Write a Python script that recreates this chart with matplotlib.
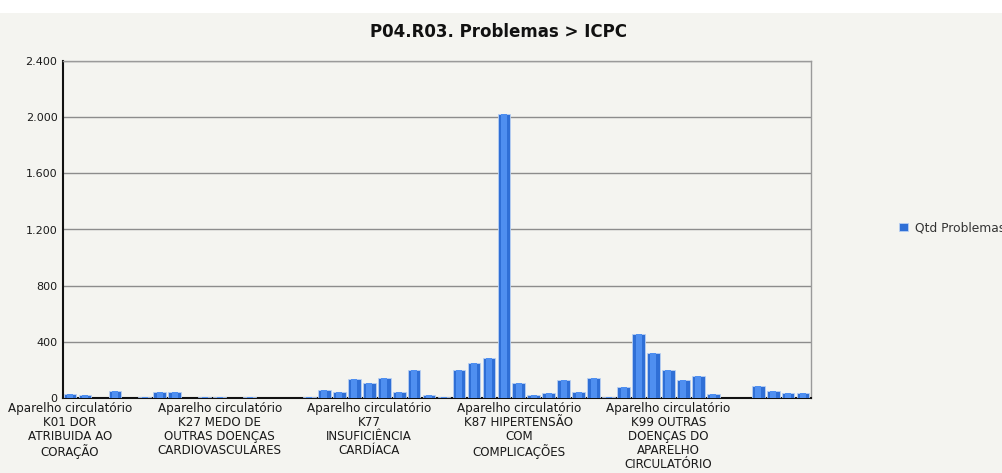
import matplotlib
matplotlib.use("Agg")
from matplotlib import pyplot as plt
from matplotlib.ticker import FuncFormatter
import numpy as np

# 50 ICPC problems, only every 10th label is visible in the chart
categories = [""] * 50
categories[0] = "Aparelho circulatório\nK01 DOR\nATRIBUIDA AO\nCORAÇÃO"
categories[10] = "Aparelho circulatório\nK27 MEDO DE\nOUTRAS DOENÇAS\nCARDIOVASCULARES"
categories[20] = "Aparelho circulatório\nK77\nINSUFICIÊNCIA\nCARDÍACA"
categories[30] = "Aparelho circulatório\nK87 HIPERTENSÃO\nCOM\nCOMPLICAÇÕES"
categories[40] = "Aparelho circulatório\nK99 OUTRAS\nDOENÇAS DO\nAPARELHO\nCIRCULATÓRIO"

qtd_problemas = [28, 20, 0, 52, 0, 10, 43, 43, 0, 10,
                 10, 0, 8, 0, 0, 0, 8, 60, 43, 133,
                 110, 143, 43, 202, 20, 8, 200, 252, 283, 2020,
                 110, 20, 33, 126, 43, 143, 10, 76, 457, 317,
                 200, 126, 160, 26, 0, 0, 83, 50, 36, 36]

y_ticks = [0, 400, 800, 1200, 1600, 2000, 2400]

bg = "#f4f4f0"
fig = plt.figure(figsize=(10.03, 4.73), dpi=100, facecolor=bg)
# white strip at the very top
fig.patches.append(plt.Rectangle((0, 1 - 13 / 473), 1, 13 / 473, transform=fig.transFigure,
                                 facecolor="white", edgecolor="none", zorder=0))

ax = fig.add_axes([63 / 1003, 75 / 473, 748 / 1003, 337 / 473], facecolor=bg)

vals = np.array(qtd_problemas)
x = np.arange(len(vals))
nz = vals > 0  # empty categories draw nothing
ax.bar(x[nz], vals[nz], width=0.85, color="#2f6fd6", edgecolor="#b9d0f2",
       linewidth=0.6, zorder=3, label="Qtd Problemas")
ax.bar(x[nz], vals[nz], width=0.4, color="#4f8ff0", linewidth=0, zorder=4)

ax.set_xlim(-0.47, 49.53)
ax.set_ylim(0, 2400)
ax.set_yticks(y_ticks)
ax.yaxis.set_major_formatter(FuncFormatter(lambda v, p: f"{int(v):,}".replace(",", ".")))
ax.grid(axis="y", color="#8c8c8c", linewidth=1, zorder=1)

shown = [i for i, c in enumerate(categories) if c]
ax.set_xticks(shown)
ax.set_xticklabels([categories[i] for i in shown], fontsize=8.6, linespacing=1.1,
                   color="#1a1a1a", ha="center", va="top")
ax.tick_params(axis="x", length=0, pad=3)
ax.tick_params(axis="y", length=0, pad=4, labelsize=8, labelcolor="#1a1a1a")

for s in ["left", "bottom"]:
    ax.spines[s].set_color("#111111")
    ax.spines[s].set_linewidth(1.5)
for s in ["top", "right"]:
    ax.spines[s].set_color("#9a9a9a")
    ax.spines[s].set_linewidth(1)

fig.text(499 / 1003, 1 - 32 / 473, "P04.R03. Problemas > ICPC", ha="center", va="center",
         fontsize=12, fontweight="bold", color="#111111")

h, l = ax.get_legend_handles_labels()
fig.legend(h[:1], l[:1], loc="center left", bbox_to_anchor=(888 / 1003, 1 - 228 / 473),
           frameon=False, fontsize=8.8, handlelength=0.7, handleheight=0.7,
           handletextpad=0.6, labelcolor="#333333")

fig.savefig("out.png", dpi=100, facecolor=fig.get_facecolor())
